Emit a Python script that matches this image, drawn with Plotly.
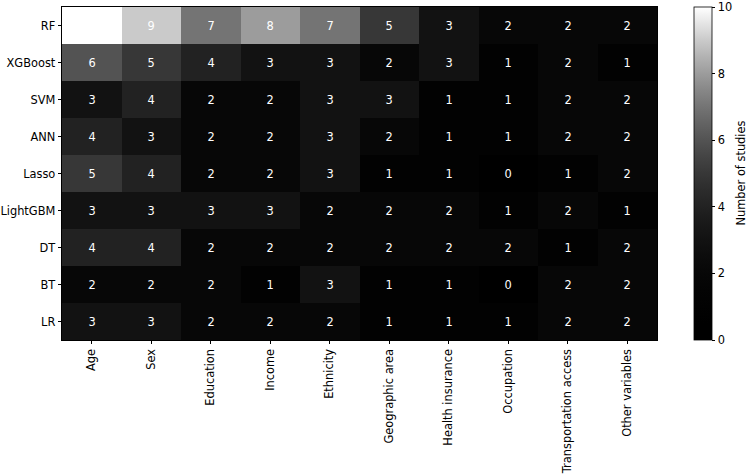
import plotly.graph_objects as go

models = ["RF", "XGBoost", "SVM", "ANN", "Lasso", "LightGBM", "DT", "BT", "LR"]
variables = ["Age", "Sex", "Education", "Income", "Ethnicity", "Geographic area",
             "Health insurance", "Occupation", "Transportation access", "Other variables"]
counts = [
    [10, 9, 7, 8, 7, 5, 3, 2, 2, 2],
    [6, 5, 4, 3, 3, 2, 3, 1, 2, 1],
    [3, 4, 2, 2, 3, 3, 1, 1, 2, 2],
    [4, 3, 2, 2, 3, 2, 1, 1, 2, 2],
    [5, 4, 2, 2, 3, 1, 1, 0, 1, 2],
    [3, 3, 3, 3, 2, 2, 2, 1, 2, 1],
    [4, 4, 2, 2, 2, 2, 2, 2, 1, 2],
    [2, 2, 2, 1, 3, 1, 1, 0, 2, 2],
    [3, 3, 2, 2, 2, 1, 1, 1, 2, 2],
]
colorbar_ticks = [0, 2, 4, 6, 8, 10]

# gamma-shaped gray colorscale (dark for low values)
gamma = 2.2
stops = 20
colorscale = []
for i in range(stops + 1):
    t = i / stops
    g = int(round(255 * t ** gamma))
    colorscale.append([t, f"rgb({g},{g},{g})"])

FONT = "DejaVu Sans"
FS = 11.4
W, H = 748, 474
PL, PR, PT, PB = 62, 657, 7, 340
PW = PR - PL

fig = go.Figure()
fig.add_trace(go.Heatmap(
    z=counts, x=variables, y=models,
    zmin=0, zmax=10,
    colorscale=colorscale,
    texttemplate="%{z}",
    textfont=dict(family=FONT, size=FS, color="#ffffff"),
    hoverinfo="skip",
    colorbar=dict(
        thickness=18, thicknessmode="pixels",
        len=1, lenmode="fraction",
        x=(694 - PL) / PW, xanchor="left", xpad=0,
        y=0.5, yanchor="middle", ypad=0,
        tickvals=colorbar_ticks,
        ticklabeloverflow="allow",
        ticks="outside", ticklen=3.5, tickwidth=0.8, tickcolor="black",
        tickfont=dict(family=FONT, size=FS, color="black"),
        outlinewidth=0.8, outlinecolor="black",
    ),
))

fig.add_annotation(
    text="Number of studies", textangle=-90,
    xref="paper", yref="paper",
    x=(740 - PL) / PW, y=0.5,
    xanchor="center", yanchor="middle",
    showarrow=False,
    font=dict(family=FONT, size=FS, color="black"),
)

fig.update_layout(
    width=W, height=H,
    margin=dict(l=PL, r=W - PR, t=PT, b=H - PB, autoexpand=False),
    paper_bgcolor="white", plot_bgcolor="white",
    font=dict(family=FONT, size=FS, color="black"),
    xaxis=dict(
        tickangle=-90, ticks="outside", ticklen=3.5, tickwidth=0.8, tickcolor="black",
        showline=True, linecolor="black", linewidth=0.8, mirror=True,
        showgrid=False, zeroline=False,
        tickfont=dict(family=FONT, size=FS, color="black"),
    ),
    yaxis=dict(
        autorange="reversed", ticks="outside", ticklen=3.5, tickwidth=0.8, tickcolor="black",
        showline=True, linecolor="black", linewidth=0.8, mirror=True,
        showgrid=False, zeroline=False,
        tickfont=dict(family=FONT, size=FS, color="black"),
    ),
)

fig.write_html("out.html")
